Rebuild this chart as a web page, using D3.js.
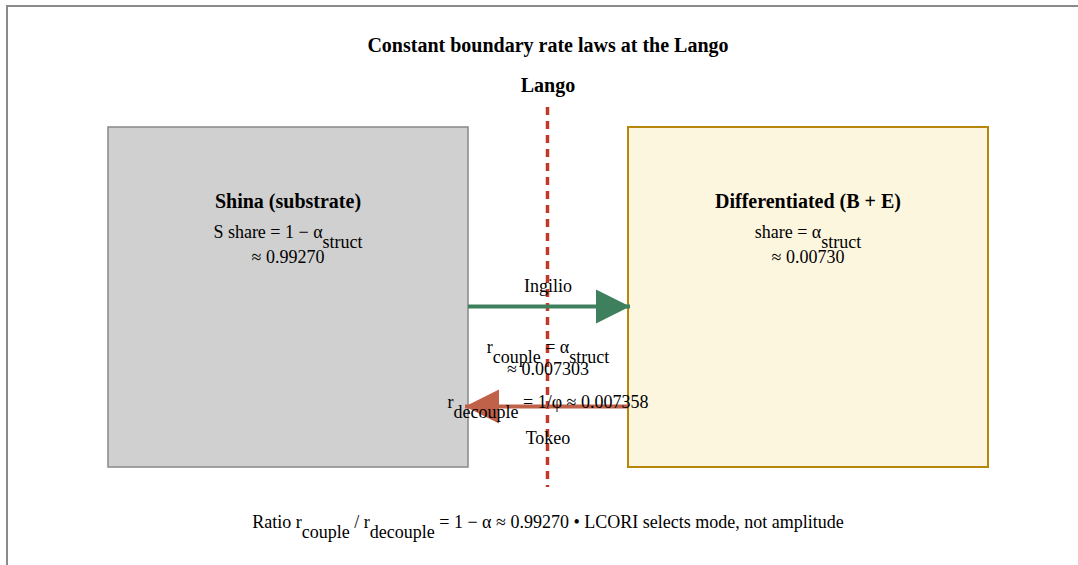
<!DOCTYPE html>
<html lang="en">
<head>
  <meta charset="utf-8">
  <title>Constant boundary rate laws</title>
  <script src="https://d3js.org/d3.v7.min.js"></script>
  <style>
    body{ margin:0; background:#fff; overflow:hidden; }
    svg text{ font-family:'Liberation Serif', 'Times New Roman', Times, 'DejaVu Serif', serif; }
  </style>
</head>
<body>
  <svg width="1078" height="565" font-family="Liberation Serif, serif"></svg>
  <script>
    // the two compartments
    var boxNames = ["Shina (substrate)", "Differentiated (B + E)"];
    var shareLabels = ["S share = 1 \u2212 \u03b1", "share = \u03b1"];
    var shareValues = ["\u2248 0.99270", "\u2248 0.00730"];

    // the two flows across the boundary
    var flowNames = ["Ingilio", "Tokeo"];
    var rateSubs = ["couple", "decouple"];
    var rateValues = ["0.007303", "0.007358"];

    var ratio = "0.99270";

    var svg = d3.select("svg");

    // frame
    svg.append("rect")
      .attr("x", 7).attr("y", 6).attr("width", 1200).attr("height", 700)
      .attr("fill", "none").attr("stroke", "#8a8a8a").attr("stroke-width", 2);

    // two 360px boxes with a 160px gap between them
    var x = d3.scaleOrdinal().domain(boxNames).range([108, 628]);
    var boxW = 360, boxTop = 127, boxH = 340;
    var mid = 547.5;
    var big = 20, small = 18;

    svg.append("text").attr("x", 548).attr("y", 52).attr("text-anchor", "middle")
      .attr("font-weight", "bold").attr("font-size", big).text("Constant boundary rate laws at the Lango");

    var fills = ["#d0d0d0", "#fdf6df"], strokes = ["#888888", "#b8860b"];

    var g = svg.selectAll(".box").data(boxNames).enter().append("g").attr("class", "box");
    g.append("rect")
      .attr("x", function(d){ return x(d); }).attr("y", boxTop)
      .attr("width", boxW).attr("height", boxH)
      .attr("fill", function(d, i){ return fills[i]; })
      .attr("stroke", function(d, i){ return strokes[i]; })
      .attr("stroke-width", function(d, i){ return i ? 2 : 1.5; });
    g.append("text")
      .attr("x", function(d){ return x(d) + boxW / 2; }).attr("y", 208)
      .attr("text-anchor", "middle").attr("font-weight", "bold").attr("font-size", big)
      .text(function(d){ return d; });
    var t = g.append("text")
      .attr("x", function(d){ return x(d) + boxW / 2; }).attr("y", 238)
      .attr("text-anchor", "middle").attr("font-size", small);
    t.append("tspan").text(function(d, i){ return shareLabels[i]; });
    t.append("tspan").attr("baseline-shift", "sub").text("struct");
    g.append("text")
      .attr("x", function(d){ return x(d) + boxW / 2; }).attr("y", 263)
      .attr("text-anchor", "middle").attr("font-size", small)
      .text(function(d, i){ return shareValues[i]; });

    // Lango boundary
    svg.append("line").attr("x1", mid).attr("x2", mid).attr("y1", 107).attr("y2", 487)
      .attr("stroke", "#c0392b").attr("stroke-width", 3.5).attr("stroke-dasharray", "8,6");
    svg.append("text").attr("x", 548).attr("y", 92).attr("text-anchor", "middle")
      .attr("font-weight", "bold").attr("font-size", big).text("Lango");

    // arrow markers
    var defs = svg.append("defs");
    [["head-g", "#3e7f5e"], ["head-r", "#c0614a"]].forEach(function(m){
      defs.append("marker").attr("id", m[0]).attr("viewBox", "0 0 10 10")
        .attr("refX", 10).attr("refY", 5).attr("markerWidth", 9).attr("markerHeight", 9)
        .attr("markerUnits", "strokeWidth").attr("orient", "auto")
        .append("path").attr("d", "M0,0L10,5L0,10Z").attr("fill", m[1]);
    });

    var left = x(boxNames[0]) + boxW, right = x(boxNames[1]);
    svg.append("line").attr("x1", left).attr("x2", right + 2).attr("y1", 306.5).attr("y2", 306.5)
      .attr("stroke", "#3e7f5e").attr("stroke-width", 3.8).attr("marker-end", "url(#head-g)");
    svg.append("line").attr("x1", right).attr("x2", left - 3).attr("y1", 406.5).attr("y2", 406.5)
      .attr("stroke", "#c0614a").attr("stroke-width", 3.8).attr("marker-end", "url(#head-r)");

    svg.append("text").attr("x", 548).attr("y", 292).attr("text-anchor", "middle")
      .attr("font-size", small).text(flowNames[0]);
    svg.append("text").attr("x", 548).attr("y", 444).attr("text-anchor", "middle")
      .attr("font-size", small).text(flowNames[1]);

    var r1 = svg.append("text").attr("x", 548).attr("y", 353).attr("text-anchor", "middle").attr("font-size", small);
    r1.append("tspan").text("r");
    r1.append("tspan").attr("baseline-shift", "sub").text(rateSubs[0]);
    r1.append("tspan").attr("baseline-shift", "baseline").text(" = \u03b1");
    r1.append("tspan").attr("baseline-shift", "sub").text("struct");
    svg.append("text").attr("x", 548).attr("y", 375).attr("text-anchor", "middle").attr("font-size", small)
      .text("\u2248 " + rateValues[0]);

    var r2 = svg.append("text").attr("x", 548).attr("y", 408).attr("text-anchor", "middle").attr("font-size", small);
    r2.append("tspan").text("r");
    r2.append("tspan").attr("baseline-shift", "sub").text(rateSubs[1]);
    r2.append("tspan").attr("baseline-shift", "baseline").text(" = 1/\u03c6 \u2248 " + rateValues[1]);

    var f = svg.append("text").attr("x", 548).attr("y", 528).attr("text-anchor", "middle").attr("font-size", small);
    f.append("tspan").text("Ratio r");
    f.append("tspan").attr("baseline-shift", "sub").text(rateSubs[0]);
    f.append("tspan").attr("baseline-shift", "baseline").text(" / r");
    f.append("tspan").attr("baseline-shift", "sub").text(rateSubs[1]);
    f.append("tspan").attr("baseline-shift", "baseline").text(" = 1 \u2212 \u03b1 \u2248 " + ratio + " \u2022 LCORI selects mode, not amplitude");
  </script>
</body>
</html>
